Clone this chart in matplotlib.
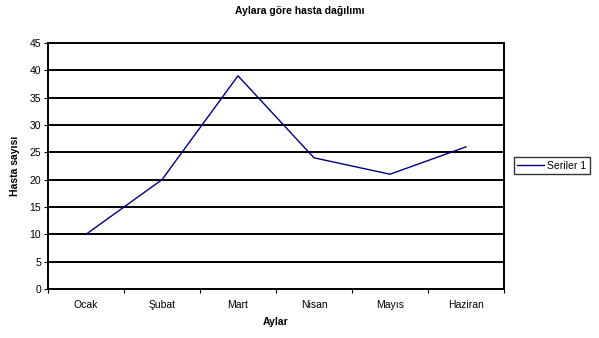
import matplotlib.pyplot as plt
import numpy as np

plt.rcParams['font.family'] = ['Liberation Sans', 'DejaVu Sans']

months = ["Ocak", "Şubat", "Mart", "Nisan", "Mayıs", "Haziran"]
patients = [10, 20, 39, 24, 21, 26]
y_ticks = list(range(0, 50, 5))

fig = plt.figure(figsize=(5.99, 3.38), dpi=100)
ax = fig.add_axes([0.0801, 0.145, 0.7613, 0.7277])

x = np.arange(len(months))
ax.plot(x, patients, color="#000080", lw=1.0, label="Seriler 1")

ax.set_xlim(-0.5, len(months) - 0.5)
ax.set_ylim(0, 45)
ax.set_yticks(y_ticks)
ax.set_xticks(x)
ax.set_xticklabels(months)
ax.set_xticks(np.arange(-0.5, len(months), 1.0), minor=True)
ax.tick_params(axis="x", which="major", length=0, pad=8, labelsize=7.5)
ax.tick_params(axis="x", which="minor", length=3, width=0.8, direction="out")
ax.tick_params(axis="y", length=3, width=0.8, direction="out", labelsize=7.5, pad=2)

for v in y_ticks[1:]:
    ax.axhline(v, color="black", lw=1.4, zorder=0)
for side in ("left", "bottom", "right", "top"):
    ax.spines[side].set_linewidth(1.4)

ax.set_xlabel("Aylar", fontsize=7.5, fontweight="bold", labelpad=5)
ax.set_ylabel("Hasta sayısı", fontsize=7.5, fontweight="bold", labelpad=7)
fig.text(0.5, 0.967, "Aylara göre hasta dağılımı", ha="center", va="center",
         fontsize=7.5, fontweight="bold")

leg = fig.legend(loc="center left", bbox_to_anchor=(0.858, 0.51), fontsize=7.5,
                 frameon=True, fancybox=False, edgecolor="black",
                 handlelength=2.6, borderpad=0.3, handletextpad=0.3,
                 borderaxespad=0)
leg.get_frame().set_linewidth(1.0)

fig.savefig("out.png", dpi=100)
